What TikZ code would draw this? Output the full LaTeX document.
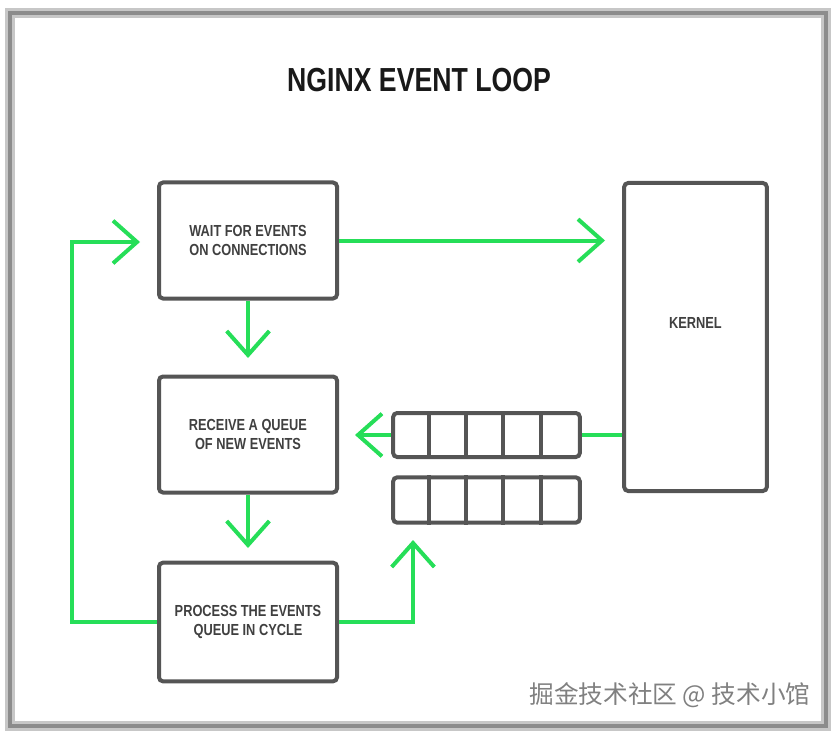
\documentclass[tikz,border=0pt]{standalone}
\usepackage{fontspec}
\setmainfont{Liberation Sans}
\newfontfamily\narrowfont[FakeStretch=0.8]{Liberation Sans}
\newfontfamily\cjkfont{Noto Sans CJK SC}
\usetikzlibrary{arrows.meta}
\definecolor{flowgreen}{HTML}{26DE58}
\definecolor{boxgray}{HTML}{555555}

\begin{document}
\begin{tikzpicture}[x=0.75pt,y=0.75pt,yscale=-1,xscale=1,
  stepbox/.style={draw=boxgray, line width=3pt, rounded corners=3pt, fill=white, align=center,
    text=black!75, font=\narrowfont\bfseries\fontsize{12}{14}\selectfont},
  queuebox/.style={draw=boxgray, line width=3pt, rounded corners=3pt, minimum width=140pt},
  flow/.style={draw=flowgreen, line width=3pt, -{Straight Barb[length=18pt,width=32pt]}},
  link/.style={draw=flowgreen, line width=3pt}]
 %uncomment if require: \path (0,731);
 \useasboundingbox (0,0) rectangle (835,731);
 \draw[black!22, line width=7pt] (10,13) rectangle (826,726);
 \draw[black!45, line width=3pt] (10,13) rectangle (826,726);

 \node[font=\narrowfont\bfseries\fontsize{25}{30}\selectfont, text=black!90] (title) at (419,80.5) {NGINX EVENT LOOP};

 \node[stepbox, minimum width=133.5pt, minimum height=87pt] (wait) at (248,240.5) {WAIT FOR EVENTS\\ON CONNECTIONS};
 \node[stepbox, minimum width=133.5pt, minimum height=87pt] (receive) at (248,434.5) {RECEIVE A QUEUE\\OF NEW EVENTS};
 \node[stepbox, minimum width=133.5pt, minimum height=89pt] (process) at (248,622) {PROCESS THE EVENTS\\QUEUE IN CYCLE};
 \node[stepbox, minimum width=107pt, minimum height=231pt] (kernel) at (695.5,337) {};
 \node[text=black!75, font=\narrowfont\bfseries\fontsize{12}{14}\selectfont] (kerneltext) at (695.5,323) {KERNEL};

 \node[queuebox, minimum height=33pt] (queuein) at (486.5,435) {};
 \node[queuebox, minimum height=34pt] (queueout) at (486.5,500) {};
 \foreach \i in {1,...,4} {
   \draw[boxgray, line width=3pt] ([xshift=\i*28pt]queuein.north west) -- ([xshift=\i*28pt]queuein.south west);
   \draw[boxgray, line width=3pt] ([xshift=\i*28pt]queueout.north west) -- ([xshift=\i*28pt]queueout.south west);
 }

 \coordinate (kerneltip) at (605,240.5);
 \coordinate (receivetip) at (248,358);
 \coordinate (processtip) at (248,548);
 \coordinate (backtip) at (355,435);
 \coordinate (queuetip) at (413,540);
 \coordinate (waittip) at (140,242);
 \coordinate (loopcorner) at (72,622);

 \draw[flow] (wait.east) -- (kerneltip);
 \draw[flow] (wait.south) -- (receivetip);
 \draw[flow] (receive.south) -- (processtip);
 \draw[link] (kernel.west |- queuein.east) -- (queuein.east);
 \draw[flow] (queuein.west) -- (backtip);
 \draw[flow] (process.east) -| (queuetip);
 \draw[flow] (process.west) -- (loopcorner) |- (waittip);

 \node[text=black!50, font=\cjkfont\fontsize{18.5}{20}\selectfont] (mark) at (670,695) {掘金技术社区 @ 技术小馆};
\end{tikzpicture}
\end{document}
